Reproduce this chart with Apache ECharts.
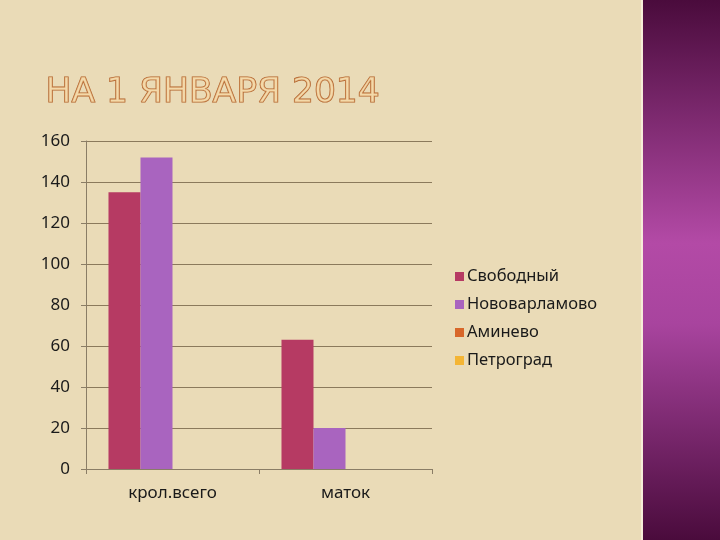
<!DOCTYPE html>
<html>
<head>
<meta charset="utf-8">
<script src="https://cdn.jsdelivr.net/npm/echarts@6/dist/echarts.min.js"></script>
<style>
  html, body { margin: 0; padding: 0; }
  #chart { width: 720px; height: 540px; }
</style>
</head>
<body>
<div id="chart"></div>
<script>
const categories = ['крол.всего', 'маток']
const svobodny = [135, 63]
const novovarlamovo = [152, 20]
const aminevo = [0, 0]
const petrograd = [0, 0]

const chart = echarts.init(document.getElementById('chart'))

const labelFont = { fontFamily: 'Noto Sans', fontSize: 17, color: '#1a1a1a' }

chart.setOption({
  backgroundColor: '#eadbb7',
  animation: false,
  graphic: [
    {
      type: 'rect',
      shape: { x: 641, y: 0, width: 79, height: 540 },
      style: {
        fill: new echarts.graphic.LinearGradient(0, 0, 0, 1, [
          { offset: 0, color: '#4a0b3c' },
          { offset: 0.45, color: '#b34aa6' },
          { offset: 0.6, color: '#a8449e' },
          { offset: 1, color: '#4a0b3c' }
        ])
      }
    },
    {
      type: 'rect',
      shape: { x: 641, y: 0, width: 2, height: 540 },
      style: { fill: '#f6ecd8' }
    },
    {
      type: 'text',
      left: 45,
      top: 75,
      style: {
        text: 'НА 1 ЯНВАРЯ 2014',
        font: '34.5px "DejaVu Sans"',
        fill: 'rgba(250,215,160,0.55)',
        stroke: '#b0602a',
        lineWidth: 1.2
      }
    }
  ],
  grid: { left: 86, right: 288, top: 141, bottom: 71 },
  legend: {
    orient: 'vertical',
    left: 450,
    top: 263,
    itemWidth: 9,
    itemHeight: 9,
    itemGap: 11,
    icon: 'rect',
    textStyle: { ...labelFont, fontSize: 16.5, padding: [0, 0, 0, -2] },
    data: ['Свободный', 'Нововарламово', 'Аминево', 'Петроград']
  },
  xAxis: {
    type: 'category',
    data: categories,
    axisLine: { lineStyle: { color: '#8a7d66' } },
    axisTick: { show: true, length: 5, lineStyle: { color: '#8a7d66' } },
    axisLabel: { ...labelFont, margin: 16 }
  },
  yAxis: {
    type: 'value',
    min: 0,
    max: 160,
    interval: 20,
    axisLine: { show: true, lineStyle: { color: '#8a7d66' } },
    axisTick: { show: true, length: 5, lineStyle: { color: '#8a7d66' } },
    splitLine: { lineStyle: { color: '#8b7a5c', width: 1 } },
    axisLabel: { ...labelFont, margin: 16 }
  },
  series: [
    { name: 'Свободный', type: 'bar', data: svobodny, barGap: 0, barCategoryGap: '26%', itemStyle: { color: '#b63a63' } },
    { name: 'Нововарламово', type: 'bar', data: novovarlamovo, itemStyle: { color: '#a964bf' } },
    { name: 'Аминево', type: 'bar', data: aminevo, itemStyle: { color: '#d8672a' } },
    { name: 'Петроград', type: 'bar', data: petrograd, itemStyle: { color: '#f4b534' } }
  ]
})
</script>
</body>
</html>
